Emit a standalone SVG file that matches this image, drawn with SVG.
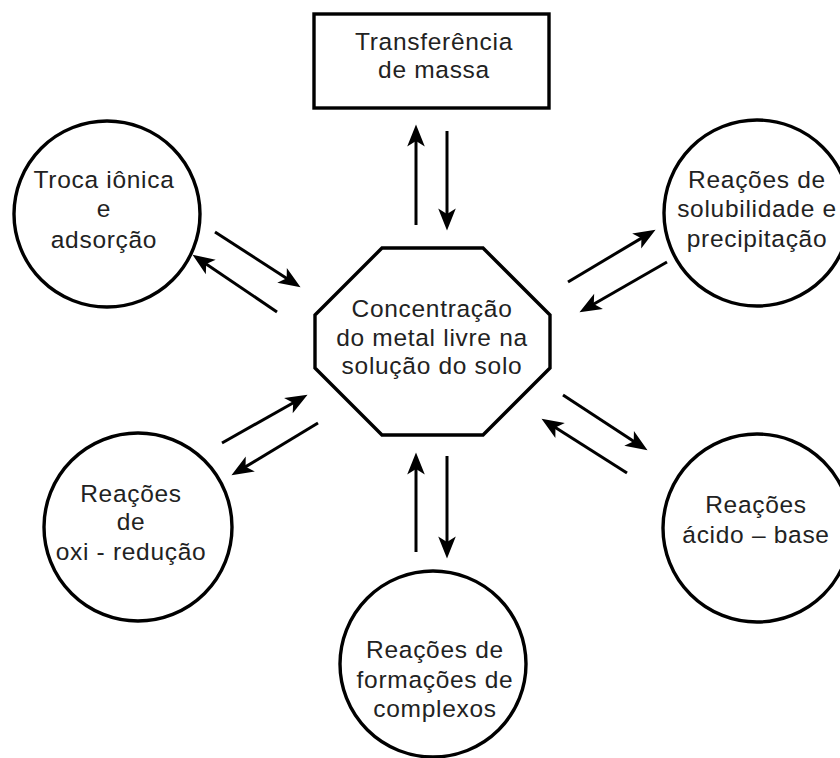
<svg xmlns="http://www.w3.org/2000/svg" width="840" height="758" viewBox="0 0 840 758">
<style>
.shape{fill:#fff;stroke:#000;stroke-width:3.4}
.lbl{font-family:"Liberation Sans",Arial,sans-serif;font-size:24.5px;letter-spacing:0.7px;fill:#222;text-anchor:middle}
.arr{fill:none;stroke:#000;stroke-width:3;marker-end:url(#ah)}
</style>
<defs>
<marker id="ah" markerUnits="userSpaceOnUse" markerWidth="26" markerHeight="22" refX="14" refY="0" viewBox="-1 -10 23 20" orient="auto">
<path d="M0,-8 L20,0 L0,8 L5,0 Z" fill="#000"/>
</marker>
</defs>
<rect width="840" height="758" fill="#fff"/>
<g id="massa">
<rect class="shape" x="314" y="14" width="235" height="94"/>
<text class="lbl" x="434" y="50">Transferência</text>
<text class="lbl" x="434" y="78">de massa</text>
</g>
<g id="centro">
<polygon class="shape" points="382,248 483,248 550,315 550,368 483,435 382,435 315,368 315,315"/>
<text class="lbl" x="432" y="317">Concentração</text>
<text class="lbl" x="432" y="346">do metal livre na</text>
<text class="lbl" x="432" y="374">solução do solo</text>
</g>
<g id="troca">
<circle class="shape" cx="107" cy="214" r="93"/>
<text class="lbl" x="104" y="188">Troca iônica</text>
<text class="lbl" x="104" y="217">e</text>
<text class="lbl" x="104" y="248">adsorção</text>
</g>
<g id="solubilidade">
<circle class="shape" cx="757" cy="213" r="93"/>
<text class="lbl" x="757" y="188">Reações de</text>
<text class="lbl" x="757" y="217">solubilidade e</text>
<text class="lbl" x="757" y="247">precipitação</text>
</g>
<g id="oxi">
<circle class="shape" cx="138" cy="527" r="94"/>
<text class="lbl" x="131" y="502">Reações</text>
<text class="lbl" x="131" y="530">de</text>
<text class="lbl" x="131" y="560">oxi - redução</text>
</g>
<g id="acido">
<circle class="shape" cx="757" cy="528" r="94"/>
<text class="lbl" x="756" y="513">Reações</text>
<text class="lbl" x="756" y="543">ácido – base</text>
</g>
<g id="complexos">
<circle class="shape" cx="433" cy="664" r="93"/>
<text class="lbl" x="435" y="658">Reações de</text>
<text class="lbl" x="435" y="688">formações de</text>
<text class="lbl" x="435" y="717">complexos</text>
</g>
<g id="connectors">
<path class="arr" d="M416,225 L416,131"/>
<path class="arr" d="M447,131 L447,224"/>
<path class="arr" d="M215,232 L295,283.7"/>
<path class="arr" d="M277,312 L198,258.4"/>
<path class="arr" d="M568,282 L649.9,233.1"/>
<path class="arr" d="M667,262 L585.2,309"/>
<path class="arr" d="M222,443 L301.8,398"/>
<path class="arr" d="M318,423 L237.1,471.9"/>
<path class="arr" d="M563,395 L642,446.7"/>
<path class="arr" d="M627,473 L547.1,422.2"/>
<path class="arr" d="M416,552 L416,459"/>
<path class="arr" d="M447,456 L447,552"/>
</g>
</svg>
